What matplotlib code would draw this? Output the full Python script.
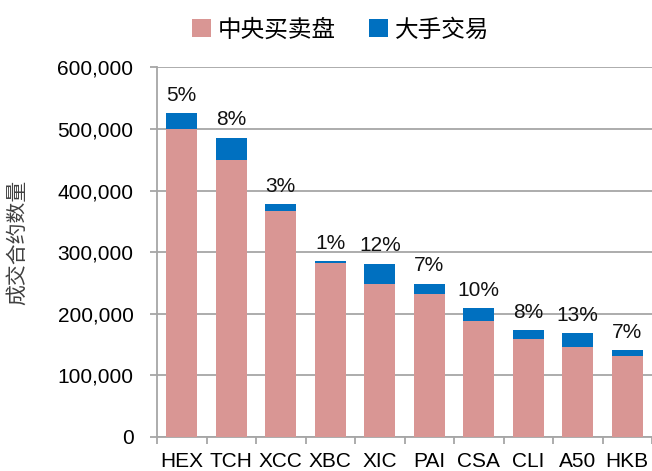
import numpy as np
import matplotlib
matplotlib.use("Agg")
import matplotlib.pyplot as plt

plt.rcParams['font.family'] = ['Liberation Sans', 'Noto Sans CJK SC', 'DejaVu Sans']

# Data
products = ["HEX", "TCH", "XCC", "XBC", "XIC", "PAI", "CSA", "CLI", "A50", "HKB"]
central_orders = [500000, 449600, 366700, 282600, 248000, 231200, 188300, 158500, 145500, 130900]
block_trades = [25500, 36400, 11300, 2300, 33000, 17300, 20100, 14700, 22300, 9800]
block_pct = ["5%", "8%", "3%", "1%", "12%", "7%", "10%", "8%", "13%", "7%"]

pink = "#D99694"
blue = "#0070C0"
grey = "#A6A6A6"

fig = plt.figure(figsize=(6.52, 4.71), dpi=100)
ax = fig.add_axes([0.2408, 0.0732, 0.7592, 0.7835])

x = np.arange(len(products))
totals = np.array(central_orders) + np.array(block_trades)
ax.bar(x, central_orders, width=0.63, color=pink, label="中央买卖盘", zorder=3)
ax.bar(x, block_trades, width=0.63, bottom=central_orders, color=blue, label="大手交易", zorder=3)

for xi, top, txt in zip(x, totals, block_pct):
    ax.annotate(txt, (xi, top), xytext=(0, 6), textcoords="offset points",
                ha="center", va="bottom", fontsize=15, color="#111111")

ax.set_xlim(-0.5, len(products) - 0.5)
ax.set_ylim(0, 600000)
ax.set_yticks(np.arange(0, 600001, 100000))
ax.yaxis.set_major_formatter(matplotlib.ticker.FuncFormatter(lambda v, p: f"{int(v):,}"))
ax.grid(axis="y", color=grey, linewidth=1.3, zorder=0)

ax.set_xticks(x)
ax.set_xticklabels(products)
ax.set_xticks(np.arange(-0.5, len(products), 1), minor=True)
ax.tick_params(axis="x", which="major", length=0, pad=11, labelsize=15)
ax.tick_params(axis="x", which="minor", length=5, width=1.3, color=grey)
ax.tick_params(axis="y", length=5, width=1.3, color=grey, pad=12, labelsize=15)

for s in ["top", "right"]:
    ax.spines[s].set_visible(False)
for s in ["left", "bottom"]:
    ax.spines[s].set_color(grey)
    ax.spines[s].set_linewidth(1.3)

fig.text(0.026, 0.485, "成交合约数量", rotation=90, ha="center", va="center",
         fontsize=15, color="#404040", family=['Noto Sans CJK SC', 'DejaVu Sans'])

leg = fig.legend(loc="center", bbox_to_anchor=(0.523, 0.936), ncol=2, frameon=False,
                 prop={"family": ['Noto Sans CJK SC', 'DejaVu Sans'], "size": 17},
                 handlelength=0.8, handleheight=0.8, handletextpad=0.3, columnspacing=1.4)

fig.savefig("out.png", dpi=100)
